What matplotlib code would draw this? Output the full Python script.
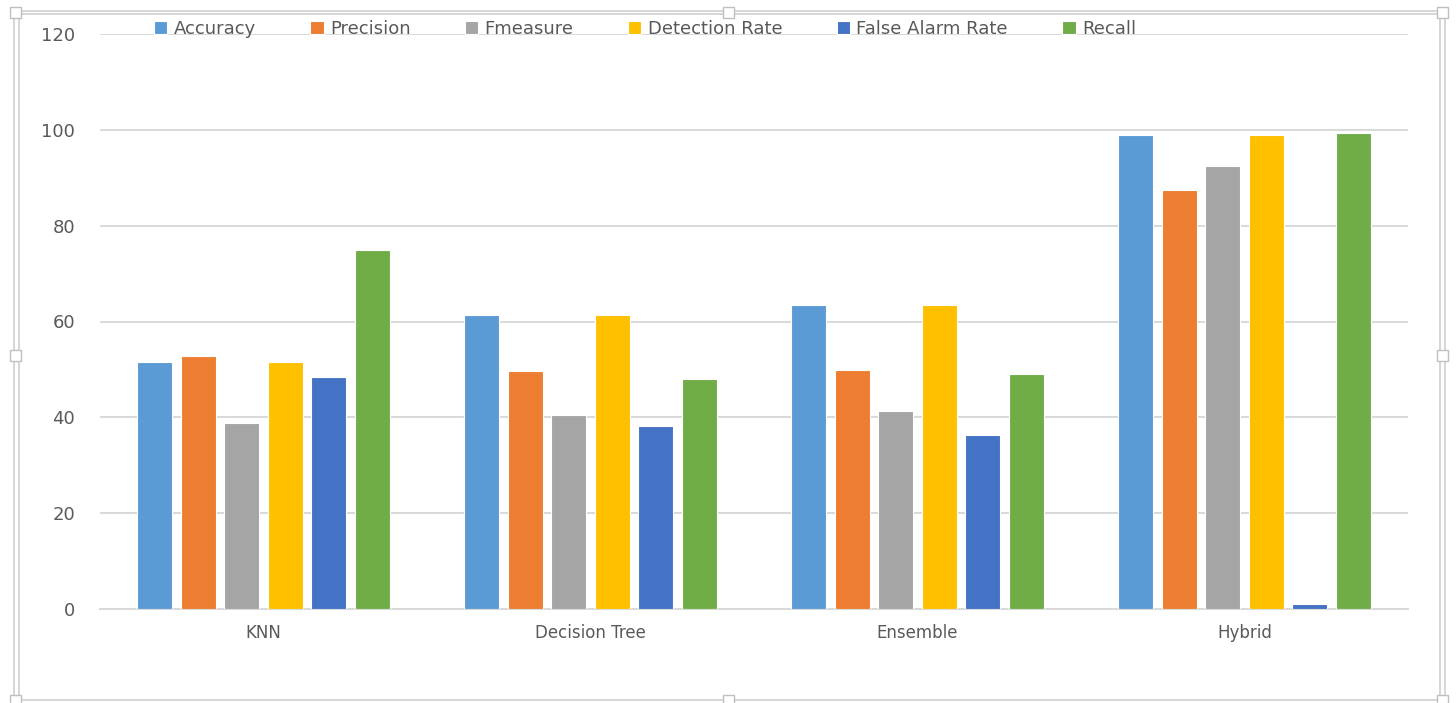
import numpy as np
import matplotlib
matplotlib.use("Agg")
import matplotlib.pyplot as plt
from matplotlib.lines import Line2D
from matplotlib.patches import FancyBboxPatch

plt.rcParams['font.family'] = ['DejaVu Sans']

categories = ["KNN", "Decision Tree", "Ensemble", "Hybrid"]
series_names = ["Accuracy", "Precision", "Fmeasure", "Detection Rate",
                "False Alarm Rate", "Recall"]
accuracy = [51.5, 61.4, 63.5, 98.9]
precision = [52.9, 49.7, 49.9, 87.4]
fmeasure = [38.8, 40.5, 41.3, 92.4]
detection_rate = [51.5, 61.4, 63.5, 98.9]
false_alarm_rate = [48.4, 38.2, 36.3, 1.0]
recall = [74.9, 48.0, 49.1, 99.3]
y_ticks = [0, 20, 40, 60, 80, 100, 120]

series = [accuracy, precision, fmeasure, detection_rate, false_alarm_rate, recall]
colors = ["#5B9BD5", "#ED7D31", "#A5A5A5", "#FFC000", "#4472C4", "#70AD47"]
text_color = "#595959"
grid_color = "#D9D9D9"

W, H = 1456, 703
fig = plt.figure(figsize=(W / 100, H / 100), dpi=100)
ax = fig.add_axes([100 / W, 1 - 609 / H, 1308 / W, 575 / H])

x = np.arange(len(categories))
pitch = 0.1333
width = 0.107
for i, (name, vals, c) in enumerate(zip(series_names, series, colors)):
    ax.bar(x + (i - 2.5) * pitch, vals, width, color=c, label=name,
           edgecolor="white", linewidth=0.8, zorder=3)

ax.set_xlim(-0.5, len(categories) - 0.5)
ax.set_ylim(0, 120)
ax.set_yticks(y_ticks)
ax.set_xticks(x)
ax.set_xticklabels(categories)
ax.tick_params(axis="both", length=0, colors=text_color)
ax.tick_params(axis="y", labelsize=13, pad=18)
ax.tick_params(axis="x", labelsize=12, pad=11)
ax.grid(axis="y", color=grid_color, linewidth=1.4, zorder=0)
for s in ["left", "right", "top"]:
    ax.spines[s].set_visible(False)
ax.spines["bottom"].set_color(grid_color)
ax.spines["bottom"].set_linewidth(1.4)

leg = fig.legend(loc="center", bbox_to_anchor=(645 / W, 1 - 29 / H), ncol=6,
                 frameon=False, fontsize=13, handlelength=0.75, handleheight=0.75,
                 handletextpad=0.35, columnspacing=3.0, labelcolor=text_color,
                 borderaxespad=0, borderpad=0)

# chart frame with selection handles
frame_color = "#D0D0D0"
def fx(px):
    return px / W
def fy(py):
    return 1 - py / H

for (x0, y0, x1, y1) in [(19, 14, 1440, 14), (19, 14, 19, 700), (1440, 14, 1440, 700),
                         (19, 700, 1440, 700), (14, 11, 1445, 11), (14, 11, 14, 700),
                         (1445, 11, 1445, 700)]:
    fig.add_artist(Line2D([fx(x0), fx(x1)], [fy(y0), fy(y1)], color=frame_color,
                          linewidth=1.2, transform=fig.transFigure))

for (hx, hy) in [(15, 12), (728, 12), (1442, 12), (15, 356), (1442, 356),
                 (15, 700), (728, 700), (1442, 700)]:
    s = 11
    fig.add_artist(FancyBboxPatch((fx(hx - s / 2), fy(hy + s / 2)), s / W, s / H,
                                  boxstyle="square,pad=0", facecolor="white",
                                  edgecolor="#BFBFBF", linewidth=1.0,
                                  transform=fig.transFigure, zorder=5))

fig.savefig("out.png", dpi=100, facecolor="white")
